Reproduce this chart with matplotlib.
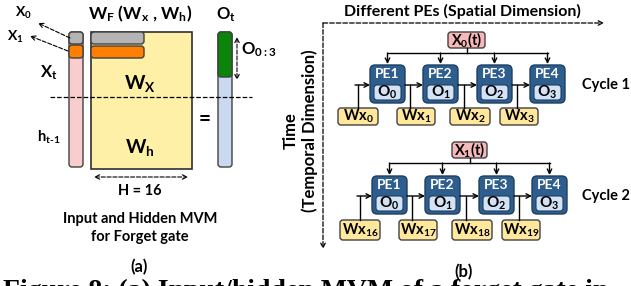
import matplotlib
matplotlib.use("Agg")
import matplotlib.pyplot as plt
from matplotlib.patches import FancyBboxPatch, Rectangle

plt.rcParams['font.family'] = ['Lato', 'DejaVu Sans']
plt.rcParams['font.weight'] = 'bold'
plt.rcParams['mathtext.fontset'] = 'custom'
plt.rcParams['mathtext.rm'] = 'Lato:bold'
plt.rcParams['mathtext.it'] = 'Lato:bold'
plt.rcParams['mathtext.bf'] = 'Lato:bold'

# labels of the diagram
pe_names = ['PE1', 'PE2', 'PE3', 'PE4']
out_names = [r'O$_0$', r'O$_1$', r'O$_2$', r'O$_3$']
inputs = [r'X$_0$(t)', r'X$_1$(t)']
weights_c1 = [r'Wx$_0$', r'Wx$_1$', r'Wx$_2$', r'Wx$_3$']
weights_c2 = [r'Wx$_{16}$', r'Wx$_{17}$', r'Wx$_{18}$', r'Wx$_{19}$']
cycles = ['Cycle 1', 'Cycle 2']

fig = plt.figure(figsize=(6.31, 2.86), dpi=100)
ax = fig.add_axes([0, 0, 1, 1])
ax.set_xlim(0, 631)
ax.set_ylim(286, 0)
ax.axis('off')


def rbox(x0, y0, x1, y1, fc, ec='#404040', lw=1.0, r=3, z=2):
    p = FancyBboxPatch((x0, y0), x1 - x0, y1 - y0,
                       boxstyle="round,pad=0,rounding_size=%g" % r,
                       fc=fc, ec=ec, lw=lw, zorder=z)
    ax.add_patch(p)


def arrow(x0, y0, x1, y1, ls='-', both=False, lw=1.0):
    style = '<->' if both else '->'
    ax.annotate('', xy=(x1, y1), xytext=(x0, y0),
                arrowprops=dict(arrowstyle=style, lw=lw, ls=ls, color='black',
                                shrinkA=0, shrinkB=0, mutation_scale=8), zorder=3)


# ---------------- part (a) ----------------
# x_t / h_t-1 vector
rbox(69, 32, 83, 167, '#F9CDCD')
rbox(69, 32, 83, 44, '#B4B4B4', z=3)
rbox(69, 45, 83, 58, '#FF7F00', z=3)
# weight matrix
ax.add_patch(Rectangle((91, 32), 101, 137, fc='#FFF0A8', ec='#303030', lw=1.2, zorder=2))
rbox(91, 32, 144, 44, '#B4B4B4', z=3)
rbox(91, 46, 144, 58, '#FF7F00', z=3)
# output vector
rbox(218, 32, 232, 167, '#C9DAF0')
rbox(218, 32, 232, 77, '#0A850A', z=3)

ax.plot([50, 252], [97, 97], ls='--', color='black', lw=0.9, zorder=4)
ax.text(205, 119, '=', fontsize=15, ha='center', va='center')

ax.text(23, 13, r'X$_0$', fontsize=10, ha='center', va='center')
ax.text(15, 37, r'X$_1$', fontsize=10, ha='center', va='center')
arrow(70, 38, 38, 23, ls='--', lw=0.8)
arrow(68, 51, 30, 36, ls='--', lw=0.8)
ax.text(49, 73, r'X$_\mathrm{t}$', fontsize=12, ha='center', va='center')
ax.text(49, 137, r'h$_\mathrm{t\text{-}1}$', fontsize=10.5, ha='center', va='center')
ax.text(140, 14, r'W$_\mathrm{F}$ (W$_\mathrm{x}$ , W$_\mathrm{h}$)', fontsize=12.5, ha='center', va='center')
ax.text(226, 15, r'O$_\mathrm{t}$', fontsize=12, ha='center', va='center')
ax.text(140, 83, r'W$_\mathrm{X}$', fontsize=14, ha='center', va='center')
ax.text(140, 147, r'W$_\mathrm{h}$', fontsize=14, ha='center', va='center')
arrow(237, 37, 237, 80, ls='--', both=True, lw=0.8)
ax.text(241, 50, r'O$_{0:3}$', fontsize=12, ha='left', va='center')
arrow(94, 177, 188, 177, ls='--', both=True, lw=0.8)
ax.text(140, 191, 'H = 16', fontsize=10.5, ha='center', va='center')
ax.text(140, 219, 'Input and Hidden MVM', fontsize=10.5, ha='center', va='center')
ax.text(140, 237, 'for Forget gate', fontsize=10.5, ha='center', va='center')
ax.text(139, 267, '(a)', fontsize=12, ha='center', va='center')

# ---------------- part (b) ----------------
ax.text(462, 11, 'Different PEs (Spatial Dimension)', fontsize=11.5, ha='center', va='center')
arrow(323, 23, 604, 23, ls='--', lw=0.9)
arrow(323, 23, 323, 249, ls='--', lw=0.9)
ax.text(291, 131, 'Time', fontsize=12, ha='center', va='center', rotation=90)
ax.text(310, 131, '(Temporal Dimension)', fontsize=12, ha='center', va='center', rotation=90)

pe_x = [370, 423, 477, 530]
w_x = [338, 397, 450, 500]
w_w = [40, 38, 40, 38]
rows = [
    dict(inp=inputs[0], ib=(448, 485, 32, 48), hl=53, top=65, bot=103, wy=(108, 125),
         w=weights_c1, cyc=cycles[0], dx=0),
    dict(inp=inputs[1], ib=(452, 487, 142, 158), hl=163, top=176, bot=214, wy=(220, 240),
         w=weights_c2, cyc=cycles[1], dx=2),
]
for r in rows:
    dx = r['dx']
    x0, x1, y0, y1 = r['ib']
    rbox(x0, y0, x1, y1, '#F6B8B8', r=3)
    ax.text((x0 + x1) / 2, (y0 + y1) / 2, r['inp'], fontsize=10.5, ha='center', va='center', zorder=5)
    cx = (x0 + x1) / 2
    ax.plot([cx, cx], [y1, r['hl']], color='black', lw=1.0)
    pcs = [p + dx + 17.5 for p in pe_x]
    ax.plot([pcs[0], pcs[-1]], [r['hl'], r['hl']], color='black', lw=1.0)
    for c in pcs:
        arrow(c, r['hl'], c, r['top'] - 1)
    ym = (r['top'] + r['bot']) / 2 + 1
    for i in range(4):
        px = pe_x[i] + dx
        rbox(px, r['top'], px + 35, r['bot'], '#2E5E8E', ec='#1F3F60', lw=1.0, r=5)
        ax.text(px + 17.5, r['top'] + 9, pe_names[i], fontsize=10, color='white',
                ha='center', va='center', zorder=5)
        rbox(px + 4, r['top'] + 20, px + 31, r['bot'] - 3, '#D3E2F5', ec='#1F3F60', lw=0.8, r=3, z=3)
        ax.text(px + 17.5, (r['top'] + 20 + r['bot'] - 3) / 2, out_names[i], fontsize=11,
                ha='center', va='center', zorder=5)
        # weight boxes feeding in from below
        wx0 = w_x[i] + dx
        rbox(wx0, r['wy'][0], wx0 + w_w[i], r['wy'][1], '#FFE79C', r=3)
        ax.text(wx0 + w_w[i] / 2, (r['wy'][0] + r['wy'][1]) / 2, r['w'][i], fontsize=10.5,
                ha='center', va='center', zorder=5)
        lx = px - 12 if i == 0 else px - 13
        ax.plot([lx, lx], [r['wy'][0], ym], color='black', lw=1.0)
        start = lx - 3 if i == 0 else pe_x[i - 1] + dx + 35
        arrow(start, ym, px, ym)
    ax.text(606, ym, r['cyc'], fontsize=10.5, ha='center', va='center')

ax.text(464, 272, '(b)', fontsize=12, ha='center', va='center')

# caption of the paper figure, cut by the bottom edge as in the source
ax.text(3, 298, 'Figure 8: (a) Input/hidden MVM of a forget gate in', fontsize=20,
        family='Liberation Serif', weight='bold', ha='left', va='baseline')

fig.savefig('out.png', dpi=100)
